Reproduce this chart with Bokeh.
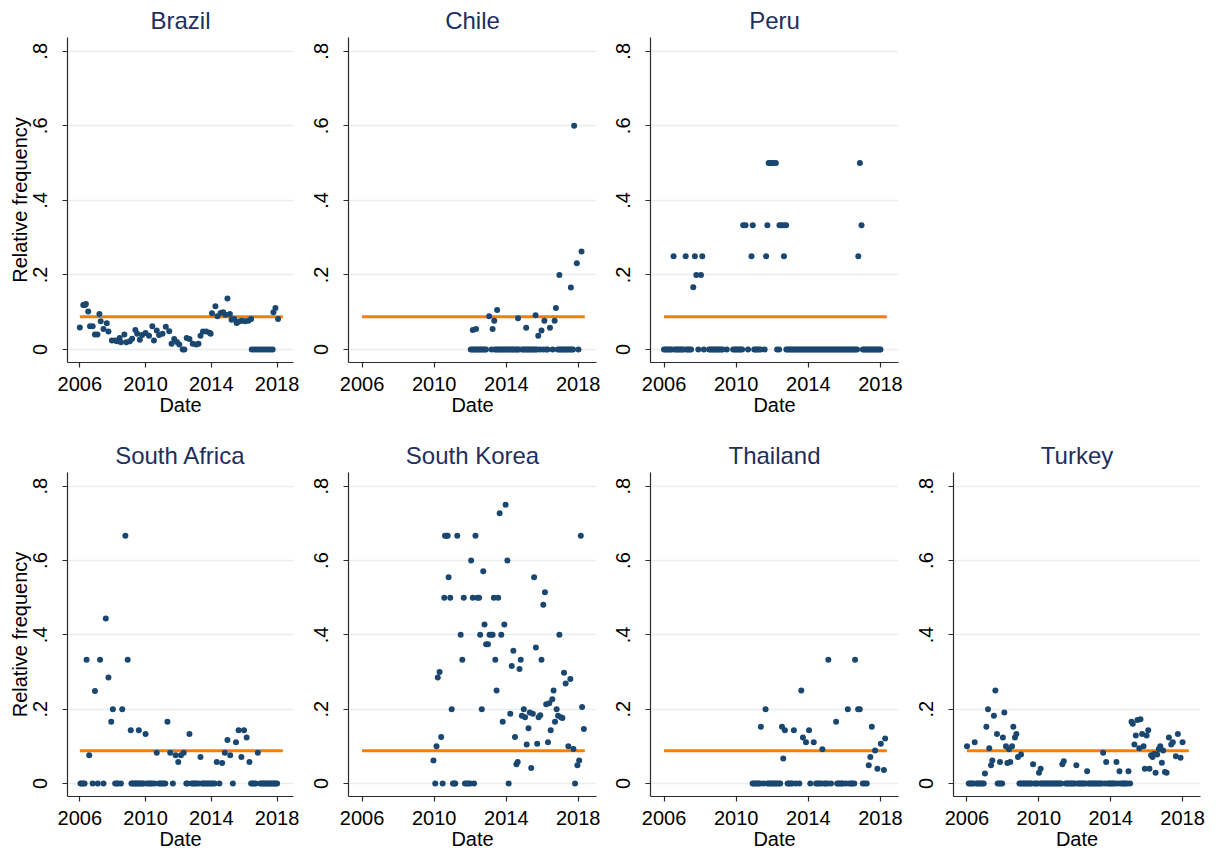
from bokeh.plotting import figure
from bokeh.layouts import column, row
from bokeh.models import Range1d, CustomJSTickFormatter, FixedTicker
from bokeh.embed import file_html
from bokeh.resources import INLINE

# ---------------- data ----------------
x_ticks = [2006, 2010, 2014, 2018]
y_ticks = [0, 0.2, 0.4, 0.6, 0.8]
mean_line_dates = [2006.0, 2018.35]
mean_line_value = 0.088

brazil_date = [2006.00, 2006.21, 2006.31, 2006.37, 2006.51, 2006.62, 2006.78, 2006.92, 2007.07, 2007.19,
               2007.27, 2007.44, 2007.64, 2007.74, 2007.95, 2008.15, 2008.26, 2008.42, 2008.50, 2008.71,
               2008.83, 2009.04, 2009.18, 2009.38, 2009.49, 2009.65, 2009.79, 2010.00, 2010.21, 2010.41,
               2010.51, 2010.68, 2010.82, 2011.03, 2011.23, 2011.44, 2011.58, 2011.74, 2011.91, 2012.05,
               2012.26, 2012.36, 2012.50, 2012.67, 2012.87, 2013.08, 2013.22, 2013.34, 2013.49, 2013.69,
               2013.90, 2013.96, 2014.04, 2014.25, 2014.37, 2014.57, 2014.72, 2014.86, 2014.98, 2015.13,
               2015.23, 2015.39, 2015.54, 2015.68, 2015.85, 2016.05, 2016.26, 2016.42, 2017.78, 2017.90,
               2018.06]
brazil_freq = [0.059, 0.119, 0.119, 0.122, 0.102, 0.062, 0.062, 0.040, 0.040, 0.095,
               0.076, 0.055, 0.070, 0.048, 0.024, 0.024, 0.022, 0.031, 0.019, 0.040,
               0.019, 0.022, 0.029, 0.052, 0.042, 0.026, 0.039, 0.044, 0.037, 0.062,
               0.024, 0.051, 0.039, 0.042, 0.061, 0.049, 0.015, 0.028, 0.020, 0.013,
               0.000, 0.000, 0.031, 0.028, 0.015, 0.013, 0.015, 0.037, 0.048, 0.048,
               0.045, 0.042, 0.097, 0.116, 0.089, 0.098, 0.100, 0.093, 0.137, 0.095,
               0.080, 0.082, 0.071, 0.075, 0.077, 0.076, 0.077, 0.082, 0.100, 0.111,
               0.082]
brazil_zero_dates = [2016.46, 2016.61, 2016.75, 2016.89, 2017.04, 2017.18, 2017.32, 2017.47, 2017.61, 2017.73]

chile_date = [2012.14, 2012.32, 2013.05, 2013.24, 2013.33, 2013.49, 2014.65, 2015.10, 2015.62, 2015.77,
              2015.95, 2016.11, 2016.42, 2016.68, 2016.75, 2016.94, 2017.58, 2017.76, 2017.91, 2018.17]
chile_freq = [0.052, 0.055, 0.089, 0.055, 0.077, 0.106, 0.084, 0.058, 0.092, 0.037,
              0.051, 0.077, 0.058, 0.077, 0.111, 0.200, 0.166, 0.600, 0.231, 0.263]
chile_zero_dates = [2012.03, 2012.12, 2012.20, 2012.29, 2012.37, 2012.45, 2012.54, 2012.62, 2012.70, 2012.79,
                    2012.87, 2013.18, 2013.37, 2013.45, 2013.54, 2013.62, 2013.70, 2013.79, 2013.87, 2013.95,
                    2014.04, 2014.12, 2014.20, 2014.29, 2014.37, 2014.45, 2014.54, 2014.62, 2014.70, 2014.87,
                    2014.95, 2015.04, 2015.12, 2015.20, 2015.29, 2015.37, 2015.45, 2015.54, 2015.62, 2015.70,
                    2015.87, 2016.04, 2016.20, 2016.29, 2016.57, 2016.85, 2016.95, 2017.04, 2017.12, 2017.20,
                    2017.29, 2017.37, 2017.45, 2017.54, 2017.62, 2017.70, 2018.00]

peru_date = [2006.53, 2007.20, 2007.62, 2007.71, 2007.79, 2008.05, 2008.12, 2010.39, 2010.52, 2010.85,
             2010.92, 2011.66, 2011.73, 2011.80, 2011.88, 2011.97, 2012.05, 2012.20, 2012.40, 2012.50,
             2012.65, 2012.77, 2012.65, 2016.77, 2016.86, 2016.95]
peru_freq = [0.25, 0.25, 0.167, 0.25, 0.2, 0.2, 0.25, 0.333, 0.333, 0.25,
             0.333, 0.25, 0.333, 0.5, 0.5, 0.5, 0.5, 0.5, 0.333, 0.333,
             0.333, 0.333, 0.25, 0.25, 0.5, 0.333]
peru_zero_dates = [2006.00, 2006.08, 2006.17, 2006.25, 2006.33, 2006.42, 2006.58, 2006.67, 2006.75, 2006.83,
                   2006.92, 2007.00, 2007.08, 2007.25, 2007.33, 2007.42, 2007.50, 2007.90, 2008.21, 2008.50,
                   2008.58, 2008.67, 2008.75, 2008.83, 2008.92, 2009.00, 2009.08, 2009.17, 2009.25, 2009.48,
                   2009.83, 2009.92, 2010.00, 2010.08, 2010.17, 2010.25, 2010.33, 2010.66, 2011.00, 2011.08,
                   2011.17, 2011.25, 2011.36, 2011.58, 2012.27, 2012.38, 2012.78, 2012.86, 2012.95, 2013.03,
                   2013.11, 2013.20, 2013.28, 2013.36, 2013.45, 2013.53, 2013.61, 2013.70, 2013.78, 2013.86,
                   2013.95, 2014.03, 2014.11, 2014.20, 2014.28, 2014.36, 2014.45, 2014.53, 2014.61, 2014.70,
                   2014.78, 2014.86, 2014.95, 2015.03, 2015.11, 2015.20, 2015.28, 2015.36, 2015.45, 2015.53,
                   2015.61, 2015.70, 2015.78, 2015.86, 2015.95, 2016.03, 2016.11, 2016.20, 2016.28, 2016.36,
                   2016.45, 2016.53, 2016.61, 2016.70, 2017.02, 2017.10, 2017.19, 2017.27, 2017.35, 2017.44,
                   2017.52, 2017.60, 2017.69, 2017.77, 2017.85, 2017.94, 2018.00]

south_africa_date = [2006.41, 2006.57, 2006.92, 2007.23, 2007.58, 2007.74, 2007.91, 2008.01, 2008.58, 2008.77,
                     2008.91, 2009.10, 2009.59, 2010.00, 2010.68, 2011.33, 2011.50, 2011.83, 2011.99, 2012.15,
                     2012.32, 2012.67, 2013.34, 2014.33, 2014.66, 2014.82, 2014.98, 2015.15, 2015.50, 2015.66,
                     2015.83, 2015.99, 2016.15, 2016.32, 2016.83]
south_africa_freq = [0.333, 0.076, 0.249, 0.333, 0.444, 0.285, 0.166, 0.200, 0.200, 0.667,
                     0.333, 0.143, 0.143, 0.133, 0.083, 0.166, 0.083, 0.076, 0.058, 0.076,
                     0.083, 0.133, 0.071, 0.058, 0.055, 0.083, 0.117, 0.076, 0.111, 0.143,
                     0.071, 0.143, 0.124, 0.058, 0.083]
south_africa_zero_dates = [2006.04, 2006.12, 2006.20, 2006.29, 2006.78, 2007.09, 2007.44, 2008.15, 2008.25, 2008.33,
                           2008.50, 2009.14, 2009.22, 2009.30, 2009.38, 2009.46, 2009.54, 2009.63, 2009.71, 2009.80,
                           2009.90, 2010.10, 2010.20, 2010.30, 2010.40, 2010.55, 2010.82, 2010.92, 2011.00, 2011.10,
                           2011.20, 2011.66, 2012.48, 2012.56, 2012.82, 2012.90, 2013.00, 2013.10, 2013.22, 2013.43,
                           2013.50, 2013.60, 2013.70, 2013.80, 2013.90, 2014.00, 2014.10, 2014.20, 2014.49, 2015.31,
                           2016.42, 2016.50, 2016.60, 2016.70, 2016.98, 2017.07, 2017.16, 2017.24, 2017.33, 2017.42,
                           2017.50, 2017.58, 2017.67, 2017.76, 2017.84, 2017.92, 2018.00]

south_korea_date = [2009.96, 2010.06, 2010.13, 2010.20, 2010.30, 2010.39, 2010.47, 2010.56, 2010.60, 2010.69,
                    2010.75, 2010.80, 2010.89, 2010.97, 2011.04, 2011.12, 2011.17, 2011.28, 2011.47, 2011.56,
                    2011.64, 2011.71, 2011.80, 2011.90, 2011.99, 2012.05, 2012.14, 2012.21, 2012.29, 2012.40,
                    2012.49, 2012.55, 2012.64, 2012.72, 2012.79, 2012.88, 2012.98, 2013.07, 2013.16, 2013.24,
                    2013.31, 2013.39, 2013.46, 2013.55, 2013.63, 2013.72, 2013.80, 2013.89, 2013.96, 2014.06,
                    2014.13, 2014.22, 2014.30, 2014.39, 2014.48, 2014.56, 2014.63, 2014.73, 2014.80, 2014.86,
                    2014.97, 2015.04, 2015.13, 2015.23, 2015.30, 2015.38, 2015.47, 2015.54, 2015.64, 2015.71,
                    2015.79, 2015.88, 2015.95, 2016.05, 2016.14, 2016.21, 2016.31, 2016.38, 2016.46, 2016.55,
                    2016.62, 2016.70, 2016.79, 2016.87, 2016.94, 2017.03, 2017.11, 2017.20, 2017.29, 2017.44,
                    2017.55, 2017.72, 2017.81, 2017.94, 2018.04, 2018.13, 2018.20, 2018.30]
south_korea_freq = [0.062, 0.000, 0.100, 0.285, 0.300, 0.125, 0.000, 0.500, 0.667, 0.667,
                    0.667, 0.555, 0.500, 0.200, 0.000, 0.000, 0.000, 0.667, 0.400, 0.333,
                    0.500, 0.000, 0.000, 0.000, 0.000, 0.600, 0.500, 0.000, 0.667, 0.500,
                    0.500, 0.400, 0.200, 0.571, 0.428, 0.375, 0.375, 0.400, 0.400, 0.400,
                    0.500, 0.333, 0.250, 0.500, 0.727, 0.400, 0.166, 0.428, 0.750, 0.600,
                    0.000, 0.188, 0.316, 0.357, 0.125, 0.052, 0.058, 0.308, 0.333, 0.182,
                    0.200, 0.178, 0.105, 0.149, 0.191, 0.042, 0.188, 0.555, 0.366, 0.107,
                    0.178, 0.184, 0.333, 0.481, 0.515, 0.213, 0.111, 0.216, 0.143, 0.227,
                    0.250, 0.166, 0.200, 0.182, 0.400, 0.178, 0.176, 0.298, 0.269, 0.100,
                    0.281, 0.093, 0.000, 0.049, 0.062, 0.667, 0.206, 0.147]
south_korea_zero_dates = []

thailand_date = [2011.37, 2011.63, 2012.54, 2012.61, 2012.70, 2013.20, 2013.61, 2013.70, 2013.87, 2014.04,
                 2014.30, 2014.78, 2015.11, 2015.54, 2016.19, 2016.59, 2016.76, 2016.85, 2017.35, 2017.44,
                 2017.52, 2017.70, 2017.83, 2018.02, 2018.19, 2018.26]
thailand_freq = [0.153, 0.200, 0.153, 0.067, 0.143, 0.143, 0.250, 0.124, 0.111, 0.143,
                 0.111, 0.092, 0.333, 0.166, 0.200, 0.333, 0.200, 0.200, 0.049, 0.071,
                 0.153, 0.089, 0.040, 0.107, 0.036, 0.121]
thailand_zero_dates = [2010.91, 2011.00, 2011.08, 2011.17, 2011.25, 2011.33, 2011.52, 2011.74, 2011.83, 2011.91,
                       2012.00, 2012.08, 2012.17, 2012.27, 2012.37, 2012.44, 2012.85, 2012.93, 2013.02, 2013.10,
                       2013.30, 2013.50, 2014.11, 2014.43, 2014.52, 2014.60, 2014.70, 2014.87, 2014.95, 2015.07,
                       2015.26, 2015.60, 2015.68, 2015.77, 2015.85, 2015.93, 2016.09, 2016.28, 2016.37, 2016.45,
                       2016.55, 2017.02, 2017.12, 2017.24]

turkey_date = [2006.00, 2006.43, 2007.00, 2007.08, 2007.17, 2007.24, 2007.34, 2007.41, 2007.50, 2007.58,
               2007.67, 2007.84, 2008.00, 2008.08, 2008.17, 2008.25, 2008.34, 2008.41, 2008.51, 2008.58,
               2008.67, 2008.75, 2008.84, 2009.01, 2009.68, 2010.01, 2010.10, 2011.31, 2011.39, 2012.09,
               2012.69, 2013.58, 2013.75, 2014.32, 2014.49, 2014.99, 2015.16, 2015.23, 2015.32, 2015.40,
               2015.49, 2015.59, 2015.66, 2015.75, 2015.83, 2015.90, 2016.00, 2016.09, 2016.16, 2016.25,
               2016.33, 2016.42, 2016.50, 2016.59, 2016.68, 2016.76, 2016.85, 2016.92, 2017.02, 2017.11,
               2017.24, 2017.37, 2017.46, 2017.63, 2017.74, 2017.89, 2018.00]
turkey_freq = [0.100, 0.111, 0.027, 0.153, 0.200, 0.095, 0.049, 0.062, 0.182, 0.250,
               0.133, 0.058, 0.124, 0.191, 0.100, 0.055, 0.092, 0.058, 0.100, 0.153,
               0.124, 0.133, 0.071, 0.078, 0.052, 0.029, 0.040, 0.052, 0.060, 0.049,
               0.033, 0.083, 0.058, 0.058, 0.033, 0.033, 0.166, 0.161, 0.105, 0.129,
               0.171, 0.095, 0.173, 0.133, 0.100, 0.040, 0.129, 0.143, 0.040, 0.076,
               0.071, 0.080, 0.029, 0.078, 0.093, 0.100, 0.056, 0.089, 0.031, 0.029,
               0.124, 0.105, 0.111, 0.073, 0.133, 0.069, 0.111]
turkey_zero_dates = [2006.10, 2006.18, 2006.27, 2006.35, 2006.52, 2006.60, 2006.68, 2006.77, 2006.85, 2006.93,
                     2007.71, 2007.79, 2007.88, 2007.96, 2008.92, 2009.00, 2009.08, 2009.17, 2009.25, 2009.33,
                     2009.42, 2009.50, 2009.58, 2009.75, 2009.83, 2009.92, 2010.08, 2010.17, 2010.25, 2010.33,
                     2010.42, 2010.50, 2010.58, 2010.67, 2010.75, 2010.83, 2010.92, 2011.00, 2011.08, 2011.17,
                     2011.25, 2011.50, 2011.58, 2011.67, 2011.75, 2011.83, 2011.92, 2012.00, 2012.17, 2012.25,
                     2012.33, 2012.42, 2012.50, 2012.58, 2012.75, 2012.83, 2012.92, 2013.00, 2013.08, 2013.17,
                     2013.25, 2013.33, 2013.42, 2013.50, 2013.67, 2013.83, 2013.92, 2014.00, 2014.08, 2014.17,
                     2014.25, 2014.42, 2014.58, 2014.67, 2014.75, 2014.83, 2014.92, 2015.08]

# ---------------- styling ----------------
FONT = "Liberation Sans"
DOT = "#1a476f"
ORANGE = "#f77f00"
TITLE_COLOR = "#1e2f5e"
GRID = "#e6eef1"
AXIS = "#2b2b2b"

def panel(name, dates, freqs, zero_dates, width, height, bl, br, bt, bb, ylabel):
    p = figure(width=width, height=height,
               x_range=Range1d(2005.25, 2019.0), y_range=Range1d(-0.035, 0.837),
               output_backend="svg", toolbar_location=None, title=name,
               min_border_left=bl, min_border_right=br, min_border_top=bt, min_border_bottom=bb)
    p.title.align = "center"
    p.title.text_font = FONT
    p.title.text_font_size = "24px"
    p.title.text_font_style = "normal"
    p.title.text_color = TITLE_COLOR
    p.title.standoff = 8
    p.outline_line_color = None
    p.background_fill_color = "white"
    p.border_fill_color = "white"

    p.xgrid.visible = False
    p.ygrid.grid_line_color = GRID
    p.ygrid.grid_line_width = 1.5

    p.xaxis.ticker = FixedTicker(ticks=x_ticks)
    p.yaxis.ticker = FixedTicker(ticks=y_ticks)
    p.yaxis.formatter = CustomJSTickFormatter(
        code="return tick == 0 ? '0' : tick.toFixed(1).replace(/^0/, '');")
    for ax in (p.xaxis, p.yaxis):
        ax.axis_line_color = AXIS
        ax.axis_line_width = 1.2
        ax.major_tick_line_color = AXIS
        ax.major_tick_line_width = 1.2
        ax.major_tick_in = 0
        ax.major_tick_out = 5
        ax.minor_tick_line_color = None
        ax.major_label_text_font = FONT
        ax.major_label_text_font_size = "20px"
        ax.major_label_text_color = "black"
        ax.axis_label_text_font = FONT
        ax.axis_label_text_font_size = "20px"
        ax.axis_label_text_font_style = "normal"
        ax.axis_label_text_color = "black"
    p.yaxis.major_label_orientation = "vertical"
    p.yaxis.major_label_standoff = 15
    p.xaxis.major_label_standoff = 9
    p.xaxis.axis_label = "Date"
    p.xaxis.axis_label_standoff = 0
    if ylabel:
        p.yaxis.axis_label = "Relative frequency"
        p.yaxis.axis_label_standoff = 0

    p.line(mean_line_dates, [mean_line_value, mean_line_value], line_color=ORANGE, line_width=3)
    if zero_dates:
        p.scatter(zero_dates, [0.0] * len(zero_dates), size=6, color=DOT, line_width=0)
    p.scatter(dates, freqs, size=6, color=DOT, line_width=0)
    return p

H1, H2 = 435, 419
p1 = panel("Brazil", brazil_date, brazil_freq, brazil_zero_dates, 300, H1, 67, 7, 35, 73, True)
p2 = panel("Chile", chile_date, chile_freq, chile_zero_dates, 300, H1, 48, 4, 35, 73, False)
p3 = panel("Peru", peru_date, peru_freq, peru_zero_dates, 305, H1, 50, 7, 35, 73, False)
p4 = panel("South Africa", south_africa_date, south_africa_freq, south_africa_zero_dates, 300, H2, 67, 7, 35, 58, True)
p5 = panel("South Korea", south_korea_date, south_korea_freq, south_korea_zero_dates, 300, H2, 48, 4, 35, 58, False)
p6 = panel("Thailand", thailand_date, thailand_freq, thailand_zero_dates, 305, H2, 50, 7, 35, 58, False)
p7 = panel("Turkey", turkey_date, turkey_freq, turkey_zero_dates, 311, H2, 48, 16, 35, 58, False)

layout = column(row(p1, p2, p3), row(p4, p5, p6, p7))
open("out.html", "w").write(file_html(layout, INLINE))
